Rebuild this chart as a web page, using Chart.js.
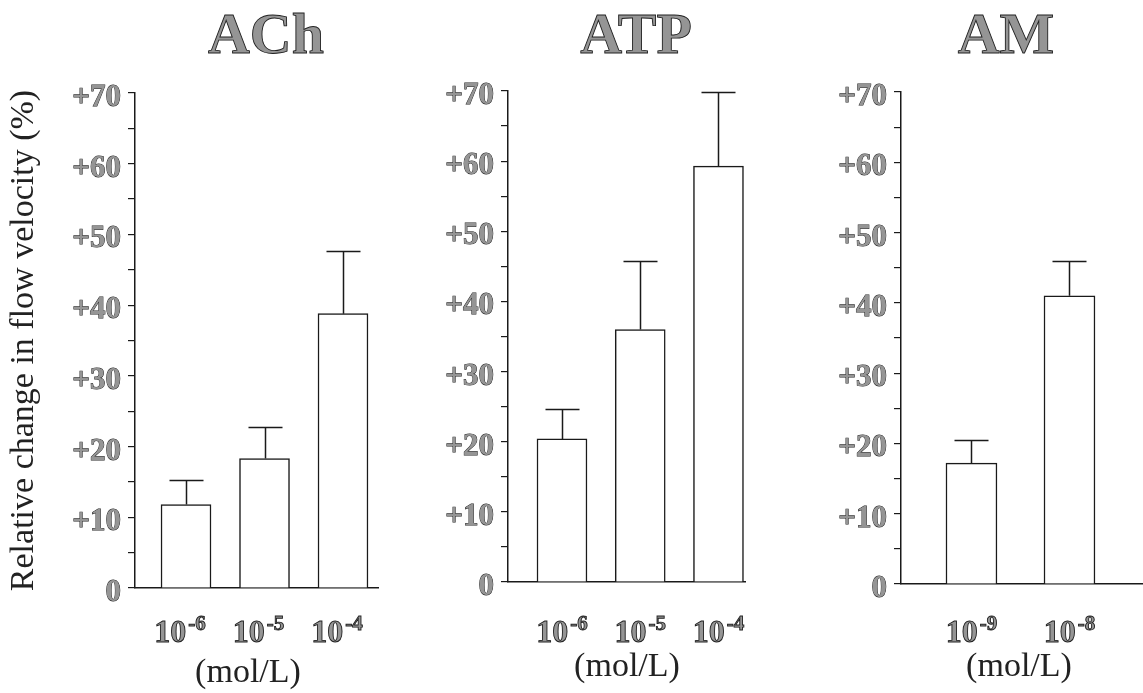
<!DOCTYPE html>
<html>
<head>
<meta charset="utf-8">
<title>Relative change in flow velocity</title>
<script src="https://cdn.jsdelivr.net/npm/chart.js@4.4.1/dist/chart.umd.min.js"></script>
<style>
  body { margin: 0; background: #fff; }
  #wrap { position: relative; width: 1143px; height: 693px; overflow: hidden; }
  canvas { position: absolute; top: 0; }
</style>
</head>
<body>
<div id="wrap">
  <canvas id="cAch" width="380" height="693" style="left:0"></canvas>
  <canvas id="cAtp" width="380" height="693" style="left:380px"></canvas>
  <canvas id="cAm" width="383" height="693" style="left:760px"></canvas>
</div>
<script>
// values: mean change (%) and upper error (SE)
const achDoses = ['-6', '-5', '-4'];          // exponents of 10 (mol/L)
const achMean  = [11.8, 18.3, 38.8];
const achErr   = [3.5, 4.4, 8.9];

const atpDoses = ['-6', '-5', '-4'];
const atpMean  = [20.4, 36.0, 59.3];
const atpErr   = [4.2, 9.7, 10.6];

const amDoses  = ['-9', '-8'];
const amMean   = [17.2, 41.0];
const amErr    = [3.3, 5.0];

const yTitle = 'Relative change in flow velocity (%)';
const unitLabel = '(mol/L)';

const SERIF = '"Liberation Serif", "Times New Roman", serif';
const GREY = '#959595', INK = '#1a1a1a';

function engraved(ctx, text, x, y, size) {
    ctx.font = 'bold ' + size + 'px ' + SERIF;
    ctx.fillStyle = GREY;
    ctx.fillText(text, x, y);
    ctx.strokeStyle = '#222';
    ctx.lineWidth = 0.9;
    ctx.strokeText(text, x, y);
}

// error bars, panel title and the 10^x dose labels
const panelDecor = {
    id: 'panelDecor',
    afterDatasetsDraw(chart, args, o) {
        const ctx = chart.ctx;
        const xs = chart.scales.x, ys = chart.scales.y;
        const pts = chart.data.datasets[0].data;
        ctx.save();

        ctx.strokeStyle = INK;
        ctx.lineWidth = 1.5;
        o.err.forEach((e, i) => {
            const x = Math.round(xs.getPixelForValue(pts[i].x)) + 0.5;
            const y0 = ys.getPixelForValue(pts[i].y);
            const y1 = Math.round(ys.getPixelForValue(pts[i].y + e)) + 0.5;
            ctx.beginPath();
            ctx.moveTo(x, y0); ctx.lineTo(x, y1);
            ctx.moveTo(x - 17, y1); ctx.lineTo(x + 17, y1);
            ctx.stroke();
        });

        ctx.textBaseline = 'alphabetic';
        ctx.textAlign = 'center';
        engraved(ctx, o.title, o.titleX, 53, 58);

        ctx.textAlign = 'left';
        o.doses.forEach((d, i) => {
            const cx = xs.getPixelForValue(pts[i].x) + o.labelShift;
            ctx.font = 'bold 32px ' + SERIF;
            const w1 = ctx.measureText('10').width;
            ctx.font = 'bold 21px ' + SERIF;
            const w2 = ctx.measureText(d).width;
            const left = cx - (w1 + w2 + 2) / 2;
            engraved(ctx, '10', left, 642, 32);
            engraved(ctx, d, left + w1 + 2, 630, 21);
        });

        ctx.textAlign = 'center';
        ctx.fillStyle = '#222';
        ctx.font = '34px ' + SERIF;
        ctx.fillText(unitLabel, o.unitX, o.unitY);
        ctx.restore();
    }
};

function makePanel(id, title, doses, mean, err, o) {
    return new Chart(document.getElementById(id), {
        type: 'bar',
        data: {
            datasets: [{
                data: mean.map((v, i) => ({ x: i + 1, y: v })),
                backgroundColor: '#fff',
                borderColor: INK,
                borderWidth: 1.5,
                barThickness: o.barW
            }]
        },
        options: {
            responsive: false,
            animation: false,
            layout: { padding: { top: o.top, bottom: o.bottom, left: 0, right: o.right } },
            plugins: {
                legend: { display: false },
                tooltip: { enabled: false },
                panelDecor: { title, doses, err, titleX: o.titleX, labelShift: o.labelShift, unitX: o.unitX, unitY: o.unitY }
            },
            scales: {
                x: {
                    type: 'linear',
                    min: o.xMin, max: o.xMax,
                    offset: false,
                    afterFit(s) { s.height = 0; },
                    ticks: { display: false },
                    grid: { display: false, offset: false },
                    border: { display: true, color: INK, width: 1.5 }
                },
                y: {
                    min: 0, max: 70,
                    afterFit(s) { s.width = o.axisX; },
                    ticks: {
                        stepSize: 5,
                        autoSkip: false,
                        callback: v => v % 10 ? '' : (v ? '+' + v : '0'),
                        font: { family: SERIF, size: 31, weight: 'bold' },
                        color: GREY,
                        textStrokeColor: '#222',
                        textStrokeWidth: 0.9,
                        padding: 7,
                        labelOffset: 5
                    },
                    grid: { drawOnChartArea: false, drawTicks: true, tickLength: 7, color: INK, lineWidth: 1.2 },
                    border: { display: true, color: INK, width: 1.5 },
                    title: o.showTitle ? {
                        display: true,
                        text: yTitle,
                        font: { family: SERIF, size: 34 },
                        color: '#222',
                        padding: { top: 4, bottom: 0 }
                    } : { display: false }
                }
            }
        },
        plugins: [panelDecor]
    });
}

makePanel('cAch', 'ACh', achDoses, achMean, achErr, {
    axisX: 135, top: 93, bottom: 105, right: 2, xMin: 0.35, xMax: 3.446, barW: 50,
    titleX: 266, labelShift: -6, unitX: 248, unitY: 682, showTitle: true
});
makePanel('cAtp', 'ATP', atpDoses, atpMean, atpErr, {
    axisX: 128, top: 91, bottom: 111, right: 15, xMin: 0.31, xMax: 3.339, barW: 50,
    titleX: 256, labelShift: 0, unitX: 247, unitY: 676, showTitle: false
});
makePanel('cAm', 'AM', amDoses, amMean, amErr, {
    axisX: 141, top: 92, bottom: 109, right: 0, xMin: 0.281, xMax: 2.75, barW: 51,
    titleX: 246, labelShift: 0, unitX: 259, unitY: 676, showTitle: false
});
</script>
</body>
</html>
